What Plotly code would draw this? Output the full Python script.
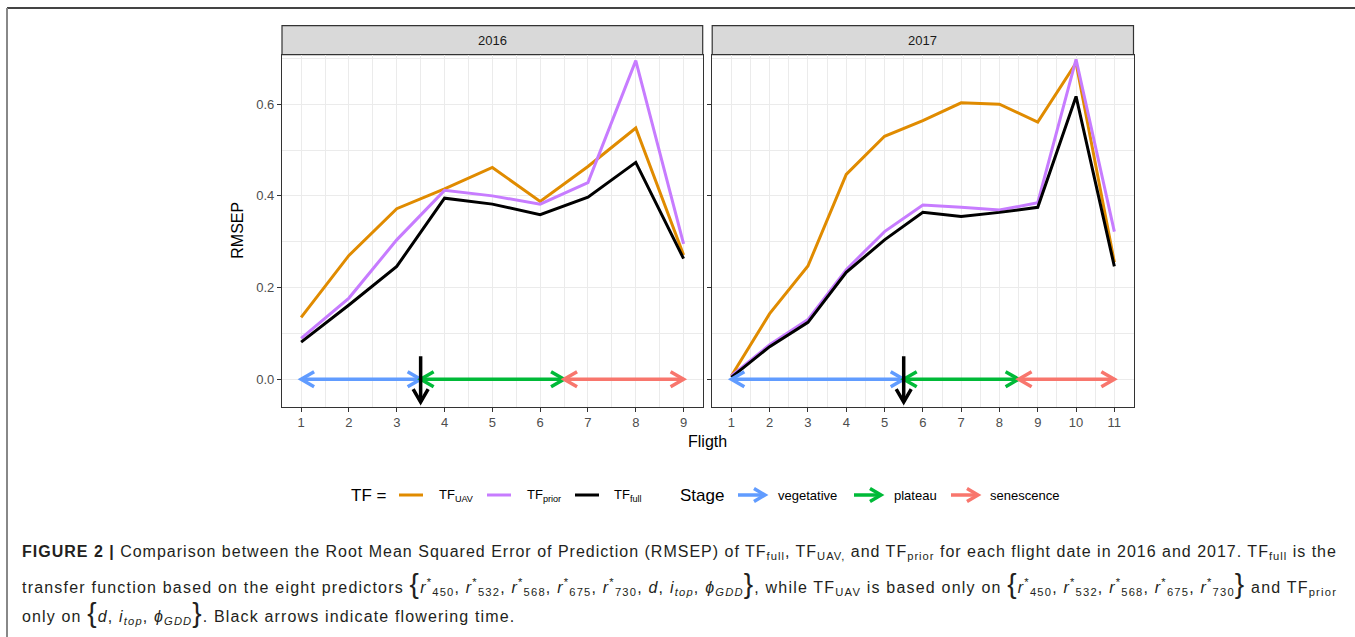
import plotly.graph_objects as go

# ---- data -------------------------------------------------------------
flights_2016 = [1, 2, 3, 4, 5, 6, 7, 8, 9]
uav_2016 = [0.135, 0.270, 0.372, 0.415, 0.462, 0.388, 0.464, 0.548, 0.271]
prior_2016 = [0.089, 0.177, 0.304, 0.412, 0.400, 0.382, 0.429, 0.695, 0.295]
full_2016 = [0.081, 0.162, 0.246, 0.395, 0.382, 0.359, 0.397, 0.473, 0.263]

flights_2017 = [1, 2, 3, 4, 5, 6, 7, 8, 9, 10, 11]
uav_2017 = [0.007, 0.143, 0.247, 0.447, 0.530, 0.564, 0.603, 0.600, 0.561, 0.690, 0.255]
prior_2017 = [0.007, 0.075, 0.130, 0.239, 0.322, 0.380, 0.375, 0.369, 0.385, 0.698, 0.322]
full_2017 = [0.004, 0.071, 0.124, 0.233, 0.304, 0.364, 0.355, 0.364, 0.375, 0.617, 0.246]

stage_names = ["vegetative", "plateau", "senescence"]
stage_bounds_2016 = [(1, 3.5), (3.5, 6.5), (6.5, 9)]
stage_bounds_2017 = [(1, 5.5), (5.5, 8.5), (8.5, 11)]
flowering_2016 = 3.5
flowering_2017 = 5.5
flower_arrow_span = (0.05, -0.05)

panel_titles = ["2016", "2017"]
y_ticks = [0.0, 0.2, 0.4, 0.6]

# ---- styles -----------------------------------------------------------
W, H = 1355, 637
FONT = "Liberation Sans, Arial, sans-serif"
TF_COLORS = {"uav": "#E08B00", "prior": "#C77CFF", "full": "#000000"}
STAGE_COLORS = ["#619CFF", "#00BA38", "#F8766D"]
GRID = "#EBEBEB"
FRAME = "#333333"


def px_x(p):
    return p / W


def px_y(p):
    return 1 - p / H


dom_x1 = [px_x(282), px_x(702.7)]
dom_x2 = [px_x(712.2), px_x(1133.5)]
dom_y = [px_y(406.7), px_y(54.7)]
strip_y = [px_y(54.7), px_y(25.7)]

fig = go.Figure()

series = [("uav", uav_2016, uav_2017), ("prior", prior_2016, prior_2017),
          ("full", full_2016, full_2017)]
for key, v16, v17 in series:
    fig.add_trace(go.Scatter(x=flights_2016, y=v16, mode="lines", xaxis="x", yaxis="y",
                             line=dict(color=TF_COLORS[key], width=3), showlegend=False,
                             hoverinfo="skip"))
    fig.add_trace(go.Scatter(x=flights_2017, y=v17, mode="lines", xaxis="x2", yaxis="y2",
                             line=dict(color=TF_COLORS[key], width=3), showlegend=False,
                             hoverinfo="skip"))

shapes = []
annotations = []


def note(x, y, text, size, color="black", xanchor="center", **kw):
    annotations.append(dict(x=x, y=y, xref="paper", yref="paper", text=text, showarrow=False,
                            xanchor=xanchor, yanchor="middle",
                            font=dict(family=FONT, size=size, color=color), **kw))


def head(xref, yref, x, y, path, color, width):
    return dict(type="path", xref=xref, yref=yref, xsizemode="pixel", ysizemode="pixel",
                xanchor=x, yanchor=y, path=path, line=dict(color=color, width=width),
                layer="above")


HEAD_L = "M 13 7.5 L 0 0 L 13 -7.5"
HEAD_R = "M -13 7.5 L 0 0 L -13 -7.5"
HEAD_D = "M -7.5 13 L 0 0 L 7.5 13"

for xref, yref, bounds, flower in [("x", "y", stage_bounds_2016, flowering_2016),
                                   ("x2", "y2", stage_bounds_2017, flowering_2017)]:
    for (a, b), col in zip(bounds, STAGE_COLORS):
        shapes.append(dict(type="line", xref=xref, yref=yref, x0=a, x1=b, y0=0, y1=0,
                           line=dict(color=col, width=3.5), layer="above"))
        shapes.append(head(xref, yref, a, 0, HEAD_L, col, 3.5))
        shapes.append(head(xref, yref, b, 0, HEAD_R, col, 3.5))
    shapes.append(dict(type="line", xref=xref, yref=yref, x0=flower, x1=flower,
                       y0=flower_arrow_span[0], y1=flower_arrow_span[1],
                       line=dict(color="black", width=3.5), layer="above"))
    shapes.append(head(xref, yref, flower, flower_arrow_span[1], HEAD_D, "black", 3.5))

# facet strips
for dom, title in zip([dom_x1, dom_x2], panel_titles):
    shapes.append(dict(type="rect", xref="paper", yref="paper", x0=dom[0], x1=dom[1],
                       y0=strip_y[0], y1=strip_y[1], fillcolor="#D9D9D9",
                       line=dict(color=FRAME, width=1.2), layer="below"))
    note((dom[0] + dom[1]) / 2, (strip_y[0] + strip_y[1]) / 2, title, 13, "#1A1A1A")

# axis titles
note(px_x(238), (dom_y[0] + dom_y[1]) / 2, "RMSEP", 16, textangle=-90)
note((dom_x1[0] + dom_x2[1]) / 2, px_y(441), "Fligth", 16)

# legend
LEG_Y = px_y(495)
note(px_x(349), LEG_Y, "TF =", 17, xanchor="left")
tf_items = [("uav", "TF<sub>UAV</sub>", 399, 437), ("prior", "TF<sub>prior</sub>", 487, 525),
            ("full", "TF<sub>full</sub>", 575, 612)]
for key, label, x0, xt in tf_items:
    shapes.append(dict(type="line", xref="paper", yref="paper", x0=px_x(x0), x1=px_x(x0 + 24),
                       y0=LEG_Y, y1=LEG_Y, line=dict(color=TF_COLORS[key], width=3)))
    note(px_x(xt), LEG_Y, label, 13, xanchor="left")

note(px_x(678), LEG_Y, "Stage", 17, xanchor="left")
for name, col, x0, xt in zip(stage_names, STAGE_COLORS, [738, 854, 951], [776, 892, 988]):
    shapes.append(dict(type="line", xref="paper", yref="paper", x0=px_x(x0), x1=px_x(x0 + 27),
                       y0=LEG_Y, y1=LEG_Y, line=dict(color=col, width=3.5)))
    shapes.append(head("paper", "paper", px_x(x0 + 27), LEG_Y, "M -11 6.5 L 0 0 L -11 -6.5", col, 3.5))
    note(px_x(xt), LEG_Y, name, 13, xanchor="left")


# caption
def r(n):
    return f"<i>r</i><sup>*</sup><sub>{n}</sub>"


LB = '<span style="font-size:28px">{</span>'
RB = '<span style="font-size:28px">}</span>'
i_top = "<i>i</i><sub><i>top</i></sub>"
phi = "<i>ϕ</i><sub><i>GDD</i></sub>"
bands = ", ".join(r(n) for n in [450, 532, 568, 675, 730])

cap1 = ("<b>FIGURE 2 |</b> Comparison between the Root Mean Squared Error of Prediction (RMSEP) of "
        "TF<sub>full</sub>, TF<sub>UAV,</sub> and TF<sub>prior</sub> for each flight date in 2016 and 2017. "
        "TF<sub>full</sub> is the")
cap2 = (f"transfer function based on the eight predictors {LB}{bands}, <i>d</i>, {i_top}, {phi}{RB}, "
        f"while TF<sub>UAV</sub> is based only on {LB}{bands}{RB} and TF<sub>prior</sub>")
cap3 = f"only on {LB}<i>d</i>, {i_top}, {phi}{RB}. Black arrows indicate flowering time."
for txt, yp, spacing in [(cap1, 552, 1.0), (cap2, 583, 1.2), (cap3, 612, 1.15)]:
    note(px_x(20), px_y(yp), f'<span style="letter-spacing:{spacing}px">{txt}</span>', 16,
         "#231F20", xanchor="left", align="left")

# outer frame lines
shapes.append(dict(type="line", xref="paper", yref="paper", x0=px_x(7), x1=1, y0=px_y(8), y1=px_y(8),
                   line=dict(color="#444444", width=2)))
shapes.append(dict(type="line", xref="paper", yref="paper", x0=px_x(7), x1=px_x(7), y0=0, y1=px_y(8),
                   line=dict(color="#888888", width=2)))

axis_common = dict(showline=True, mirror=True, linecolor=FRAME, linewidth=1.2,
                   ticks="outside", ticklen=4, tickcolor=FRAME, tickwidth=1,
                   showgrid=True, gridcolor=GRID, gridwidth=1.1, zeroline=False,
                   tickfont=dict(family=FONT, size=13, color="#4D4D4D"))

fig.update_layout(
    width=W, height=H, margin=dict(l=0, r=0, t=0, b=0),
    paper_bgcolor="white", plot_bgcolor="white", showlegend=False,
    xaxis=dict(domain=dom_x1, range=[0.6, 9.4], tickvals=flights_2016, anchor="y",
               minor=dict(tick0=1.5, dtick=1, showgrid=True, gridcolor=GRID, gridwidth=0.6, ticks=""),
               **axis_common),
    xaxis2=dict(domain=dom_x2, range=[0.5, 11.5], tickvals=flights_2017, anchor="y2",
                minor=dict(tick0=1.5, dtick=1, showgrid=True, gridcolor=GRID, gridwidth=0.6, ticks=""),
                **axis_common),
    yaxis=dict(domain=dom_y, range=[-0.06, 0.708], tickvals=y_ticks, tickformat=".1f", anchor="x",
               minor=dict(tick0=0.1, dtick=0.2, showgrid=True, gridcolor=GRID, gridwidth=0.6, ticks=""),
               **axis_common),
    yaxis2=dict(domain=dom_y, range=[-0.06, 0.708], tickvals=y_ticks, anchor="x2", matches="y",
                showticklabels=False,
                minor=dict(tick0=0.1, dtick=0.2, showgrid=True, gridcolor=GRID, gridwidth=0.6, ticks=""),
                **axis_common),
    shapes=shapes, annotations=annotations,
)

fig.write_html("out.html")
